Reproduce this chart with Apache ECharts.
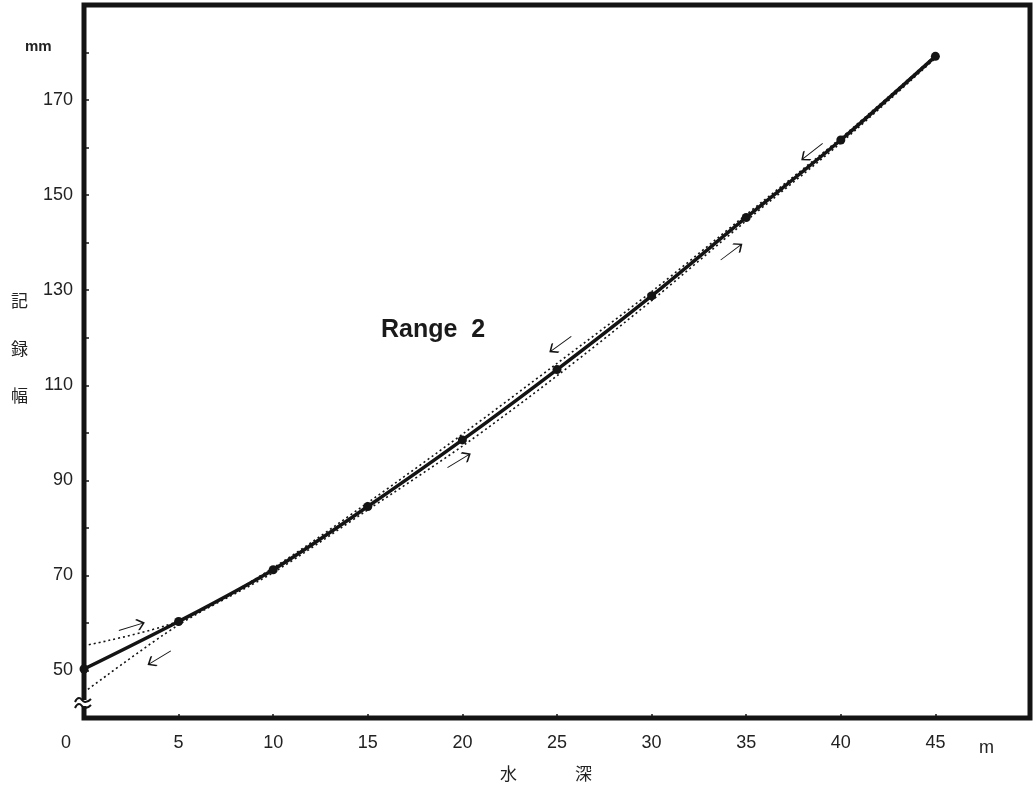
<!DOCTYPE html>
<html>
<head>
<meta charset="utf-8">
<script src="https://cdn.jsdelivr.net/npm/echarts@6/dist/echarts.min.js"></script>
<style>
  html, body { margin: 0; padding: 0; background: #fff; }
  #main { width: 1034px; height: 789px; }
</style>
</head>
<body>
<div id="main"></div>
<script>
// water depth (m) and recording width (mm)
const depth = [0, 5, 10, 15, 20, 25, 30, 35, 40, 45]
const recWidth = [50.3, 60.3, 71.2, 84.5, 98.5, 113.3, 128.8, 145.3, 161.6, 179.2]
// the two dotted traces (going up / coming back)
const upperDotted = [55.2, 60.4, 71.6, 85.3, 99.7, 114.6, 129.7, 145.9, 162.0, 179.4]
const lowerDotted = [45.4, 59.6, 70.6, 83.8, 97.2, 112.0, 127.8, 144.6, 161.0, 178.8]
const yLabels = [50, 70, 90, 110, 130, 150, 170]
const xLabels = [0, 5, 10, 15, 20, 25, 30, 35, 40, 45]

// direction arrows: [depth, width, rotation]
const arrowsUp = [[2.5, 59.2, 17], [19.8, 94.1, 31], [34.2, 138.0, 37]]
const arrowsDown = [[4.0, 52.7, 211], [25.2, 118.7, 216], [38.5, 159.2, 218]]

const ink = '#141414'
const labelFont = 'Liberation Sans'
const arrowPath = 'path://M0,10 L40,10 M30,2 L40,10 L30,18'

const toPairs = (ys) => depth.map((d, i) => [d, ys[i]])
const arrowMarks = (list) => list.map(a => ({
  coord: [a[0], a[1]],
  symbolRotate: a[2]
}))

const chart = echarts.init(document.getElementById('main'))

const option = {
  backgroundColor: '#fff',
  animation: false,
  textStyle: { fontFamily: labelFont, color: '#222' },
  grid: {
    left: 84, right: 4, top: 5, bottom: 71,
    show: true,
    borderColor: ink,
    borderWidth: 5
  },
  xAxis: {
    type: 'value',
    min: 0,
    max: 50,
    interval: 5,
    axisLine: { show: false },
    axisTick: { inside: true, length: 4, lineStyle: { color: ink, width: 1.5 } },
    splitLine: { show: false },
    axisLabel: {
      margin: 16,
      fontSize: 18,
      fontFamily: labelFont,
      color: '#222',
      formatter: (v) => {
        if (xLabels.indexOf(v) < 0) return ''
        return v === 0 ? '{z|0}' : String(v)
      },
      rich: { z: { fontSize: 18, fontFamily: labelFont, color: '#222', padding: [0, 36, 0, 0] } }
    }
  },
  yAxis: {
    type: 'value',
    min: 40,
    max: 190,
    interval: 10,
    axisLine: { show: false },
    axisTick: { inside: true, length: 5, lineStyle: { color: ink, width: 1.5 } },
    splitLine: { show: false },
    axisLabel: {
      margin: 11,
      fontSize: 18,
      fontFamily: labelFont,
      color: '#222',
      formatter: (v) => yLabels.indexOf(v) >= 0 ? String(v) : ''
    }
  },
  series: [
    {
      name: 'upper',
      type: 'line',
      data: toPairs(upperDotted),
      smooth: 0.3,
      showSymbol: false,
      lineStyle: { color: ink, width: 1.6, type: [2, 3] },
      markPoint: {
        symbol: arrowPath,
        symbolSize: [26, 11],
        itemStyle: { color: 'none', borderColor: ink, borderWidth: 1.4 },
        label: { show: false },
        data: arrowMarks(arrowsUp)
      },
      z: 2
    },
    {
      name: 'lower',
      type: 'line',
      data: toPairs(lowerDotted),
      smooth: 0.3,
      showSymbol: false,
      lineStyle: { color: ink, width: 1.6, type: [2, 3] },
      markPoint: {
        symbol: arrowPath,
        symbolSize: [26, 11],
        itemStyle: { color: 'none', borderColor: ink, borderWidth: 1.4 },
        label: { show: false },
        data: arrowMarks(arrowsDown)
      },
      z: 2
    },
    {
      name: 'width',
      type: 'line',
      data: toPairs(recWidth),
      smooth: 0.3,
      symbol: 'circle',
      symbolSize: 9,
      itemStyle: { color: ink },
      lineStyle: { color: ink, width: 3.5 },
      z: 3
    }
  ],
  graphic: [
    { type: 'text', left: 25, top: 39, style: { text: 'mm', font: 'bold 15px "Liberation Sans"', fill: '#222' } },
    { type: 'text', left: 979, top: 739, style: { text: 'm', font: '18px "Liberation Sans"', fill: '#222' } },
    { type: 'text', left: 11, top: 292, style: { text: '記', font: '17px "Noto Sans CJK JP"', fill: '#222' } },
    { type: 'text', left: 11, top: 340, style: { text: '録', font: '17px "Noto Sans CJK JP"', fill: '#222' } },
    { type: 'text', left: 11, top: 387, style: { text: '幅', font: '17px "Noto Sans CJK JP"', fill: '#222' } },
    { type: 'text', left: 500, top: 765, style: { text: '水', font: '17px "Noto Sans CJK JP"', fill: '#222' } },
    { type: 'text', left: 575, top: 765, style: { text: '深', font: '17px "Noto Sans CJK JP"', fill: '#222' } },
    { type: 'text', left: 381, top: 318, style: { text: 'Range  2', font: 'bold 25px "Liberation Sans"', fill: '#1a1a1a' } },
    // axis break mark on the left frame
    { type: 'rect', shape: { x: 78, y: 700, width: 12, height: 6 }, style: { fill: '#fff' }, z: 100 },
    { type: 'polyline', shape: { points: [[75, 702], [79, 698], [85, 702], [91, 699]], smooth: 0.5 }, style: { stroke: ink, lineWidth: 2, fill: 'none' }, z: 101 },
    { type: 'polyline', shape: { points: [[75, 708], [79, 704], [85, 708], [91, 705]], smooth: 0.5 }, style: { stroke: ink, lineWidth: 2, fill: 'none' }, z: 101 }
  ]
}

chart.setOption(option)
</script>
</body>
</html>
